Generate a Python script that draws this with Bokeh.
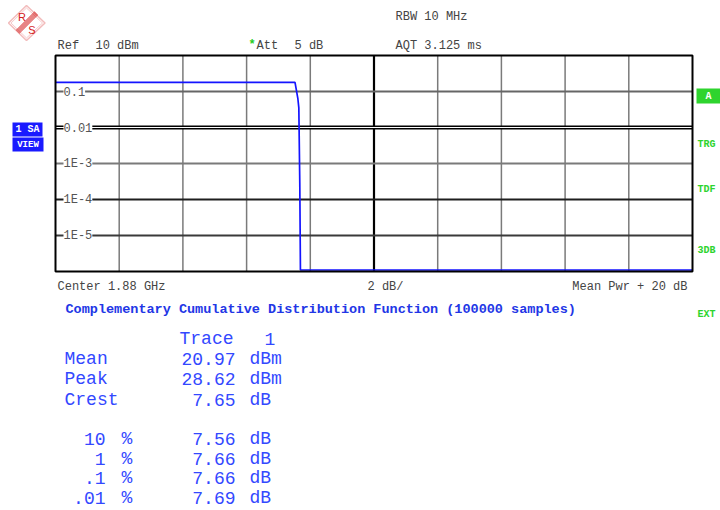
from bokeh.plotting import figure
from bokeh.models import (Label, LabelSet, ColumnDataSource, Range1d,
                          PolyAnnotation, BoxAnnotation)
from bokeh.core.properties import value
from bokeh.embed import file_html
from bokeh.resources import INLINE
import math

# ---------------- data ----------------
x_db = [0.0, 7.52, 7.61, 7.64, 7.67, 7.69, 20.0]          # dB above mean power
ccdf = [0.18, 0.18, 0.063, 0.035, 2.8e-4, 1.1e-6, 1.1e-6]  # probability
x_min, x_max = 0, 20
y_min, y_max = 1e-6, 1
x_grid = [2, 4, 6, 8, 12, 14, 16, 18]
x_center = [10]
y_ticks = [1e-1, 1e-2, 1e-3, 1e-4, 1e-5]
y_tick_labels = ["0.1", "0.01", "1E-3", "1E-4", "1E-5"]
stat_names = ["Mean", "Peak", "Crest"]
stat_values = ["20.97", "28.62", "7.65"]
stat_units = ["dBm", "dBm", "dB"]
pct_levels = ["10", "1", ".1", ".01"]
pct_values = ["7.56", "7.66", "7.66", "7.69"]
pct_units = ["dB", "dB", "dB", "dB"]

# ---------------- layout ----------------
W, H = 720, 510
FL, FT, FR, FB = 55, 55, 692, 271   # plot-area edges in page pixels

# extend the scales so that the plot area sits at FL..FR, FT..FB on a full-canvas frame
px_per_x = (FR - FL) / (x_max - x_min)
dec = math.log10(y_max) - math.log10(y_min)
px_per_dec = (FB - FT) / dec
xr = Range1d(x_min - FL / px_per_x, x_max + (W - FR) / px_per_x)
yr = Range1d(10 ** (math.log10(y_min) - (H - FB) / px_per_dec),
             10 ** (math.log10(y_max) + FT / px_per_dec))

p = figure(width=W, height=H, output_backend="svg", toolbar_location=None,
           x_range=xr, y_range=yr, y_axis_type="log", title=None,
           min_border=0, min_border_left=0, min_border_right=0,
           min_border_top=0, min_border_bottom=0)
p.xaxis.visible = False
p.yaxis.visible = False
p.grid.visible = False
p.outline_line_color = None
p.background_fill_color = "white"
p.border_fill_color = "white"

# grid
p.segment(x0=x_grid, y0=y_min, x1=x_grid, y1=y_max, line_color="#7a7a7a", line_width=1.5)
p.segment(x0=x_center, y0=y_min, x1=x_center, y1=y_max, line_color="black", line_width=2.2)
p.segment(x0=x_min, y0=y_ticks, x1=x_max, y1=y_ticks,
          line_color=["#666666", "black", "#7a7a7a", "#1e1e1e", "#3a3a3a"],
          line_width=[2, 4, 2, 2, 2])
p.segment(x0=x_min, y0=[y_ticks[1]], x1=x_max, y1=[y_ticks[1]], line_color="white", line_width=1.2)

# trace
p.line(x_db, ccdf, line_color="#1414ff", line_width=1.7)

# plot-area border
p.quad(left=[x_min], right=[x_max], bottom=[y_min], top=[y_max],
       fill_color=None, line_color="black", line_width=2)

# in-frame tick labels
src = ColumnDataSource(dict(x=[x_min] * len(y_ticks), y=y_ticks, t=y_tick_labels))
p.add_layout(LabelSet(x="x", y="y", text="t", source=src, x_offset=8,
                      text_baseline="middle", text_font=value("Liberation Mono"),
                      text_font_size="12px", text_color="#555555",
                      background_fill_color="white"))


def put(text, px, py, size=12, color="#444444", align="left", bold=False,
        font="Liberation Mono"):
    p.add_layout(Label(x=px, y=H - py, x_units="screen", y_units="screen",
                       text=text, text_font=font, text_font_size=f"{size}px",
                       text_color=color, text_align=align, text_baseline="middle",
                       text_font_style="bold" if bold else "normal"))


def box(l, t, r, b, color):
    p.add_layout(BoxAnnotation(left=l, right=r, top=H - t, bottom=H - b,
                               left_units="screen", right_units="screen",
                               top_units="screen", bottom_units="screen",
                               fill_color=color, fill_alpha=1, line_color=None))


def poly(pts, fill, line, lw=1.5, alpha=1.0):
    p.add_layout(PolyAnnotation(xs=[a for a, _ in pts], ys=[H - b for _, b in pts],
                                xs_units="screen", ys_units="screen",
                                fill_color=fill, fill_alpha=alpha,
                                line_color=line, line_width=lw))


# R&S logo
RED = "#d42020"
poly([(26, 5), (44.5, 22.5), (26, 40), (8, 22.5)], "white", RED, 1.6)
poly([(26, 7.5), (42, 22.5), (26, 37.5), (10.5, 22.5)], None, RED, 0.8)
poly([(37.5, 14.5), (34, 11), (15.5, 29.5), (19, 33)], RED, RED, 0.8, 0.55)
put("R", 21.5, 16, size=11, color=RED, align="center", font="Liberation Sans")
put("S", 31.5, 29, size=11, color=RED, align="center", font="Liberation Sans")

# header texts
put("RBW 10 MHz", 395, 16)
put("Ref", 57, 45)
put("10 dBm", 95, 45)
put("*", 248, 44, color="#22cc22", bold=True)
put("Att", 256, 45)
put("5 dB", 294, 45)
put("AQT 3.125 ms", 395, 45)

# left side
box(12, 122, 42, 136, "#1a1aff")
box(12, 137, 43, 151, "#1a1aff")
put("1 SA", 27, 129, size=10, color="white", align="center", bold=True)
put("VIEW", 27.5, 144, size=9, color="white", align="center", bold=True)

# right side
GREEN = "#2ed42e"
box(696, 88, 720, 103, GREEN)
put("A", 708, 96, size=10, color="white", align="center", bold=True)
put("TRG", 697, 144, size=10, color=GREEN, bold=True)
put("TDF", 697, 189, size=10, color=GREEN, bold=True)
put("3DB", 697, 250, size=10, color=GREEN, bold=True)
put("EXT", 697, 314, size=10, color=GREEN, bold=True)

# below plot area
put("Center 1.88 GHz", 57, 286)
put("2 dB/", 367, 286)
put("Mean Pwr + 20 dB", 687, 286, align="right")
put("Complementary Cumulative Distribution Function (100000 samples)", 65, 309,
    size=13.5, color="#2236e6", bold=True)

# statistics block
BLUE = "#3348ff"
FS = 18
put("Trace", 179, 338, size=FS, color=BLUE)
put("1", 264, 338, size=FS, color=BLUE)
for i, (n, v, u) in enumerate(zip(stat_names, stat_values, stat_units)):
    y = 358 + i * 20.5
    put(n, 64, y, size=FS, color=BLUE)
    put(v, 235, y, size=FS, color=BLUE, align="right")
    put(u, 249, y, size=FS, color=BLUE)
for i, (l, v, u) in enumerate(zip(pct_levels, pct_values, pct_units)):
    y = 438.5 + i * 19.5
    put(l, 105, y, size=FS, color=BLUE, align="right")
    put("%", 121, y, size=FS, color=BLUE)
    put(v, 235, y, size=FS, color=BLUE, align="right")
    put(u, 249, y, size=FS, color=BLUE)

open("out.html", "w").write(file_html(p, INLINE))
